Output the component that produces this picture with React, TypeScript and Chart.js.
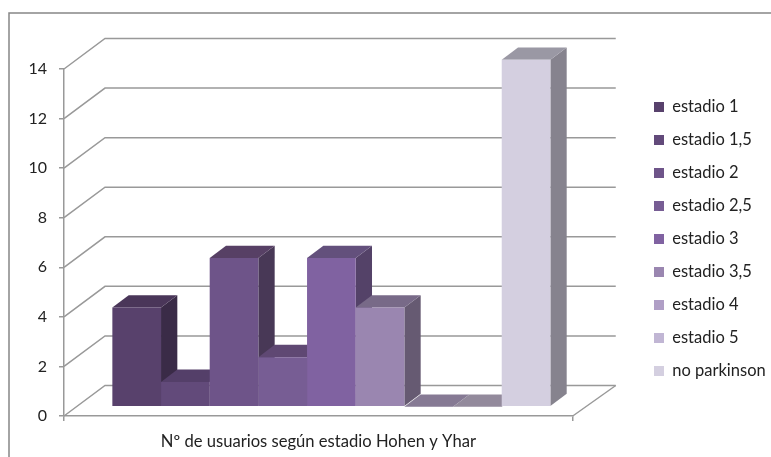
import React, { useEffect, useRef } from "react";
import { Chart, registerables } from "chart.js";

Chart.register(...registerables);

const categories = ["Nº de usuarios según estadio Hohen y Yhar"];
const seriesNames = ["estadio 1", "estadio 1,5", "estadio 2", "estadio 2,5", "estadio 3", "estadio 3,5", "estadio 4", "estadio 5", "no parkinson"];
const seriesValues = [4, 1, 6, 2, 6, 4, 0, 0, 14];
const frontColors = ["#58416c", "#624a7a", "#6e5489", "#775d94", "#8062a1", "#9a86b0", "#b09fc6", "#c1b6d4", "#d4cfe0"];
const topColors = ["#4a3659", "#543f69", "#574065", "#5f4873", "#63507c", "#786a88", "#867a94", "#938a9c", "#9a98a4"];
const sideColors = ["#3a2b47", "#433252", "#483856", "#4c3a5c", "#544268", "#665a72", "#6e6478", "#7a7484", "#86838e"];
const yTicks = [0, 2, 4, 6, 8, 10, 12, 14];

const FONT = "Lato, Carlito, Calibri, sans-serif";
const LINE = "#999999";

const depthPlugin = {
  id: "depth",
  beforeDraw(chart: any) {
    const { ctx } = chart;
    ctx.save();
    ctx.strokeStyle = "#868686";
    ctx.lineWidth = 1.5;
    ctx.beginPath();
    ctx.moveTo(9, chart.height);
    ctx.lineTo(9, 13);
    ctx.lineTo(chart.width, 13);
    ctx.stroke();
    ctx.restore();
  },
  afterLayout(chart: any) {
    const lg = chart.legend;
    const w = lg.right - lg.left;
    const h = lg.bottom - lg.top;
    lg.left = 637.5;
    lg.right = 637.5 + w;
    lg.top = 239 - h / 2;
    lg.bottom = lg.top + h;
  },
  beforeDatasetDraw() {
    return false;
  },
  beforeDatasetsDraw(chart: any) {
    const { ctx, chartArea, scales } = chart;
    const dx = 41;
    const dy = 30.5;
    ctx.save();
    ctx.strokeStyle = LINE;
    ctx.lineWidth = 1.5;
    yTicks.forEach((t) => {
      const y = scales.y.getPixelForValue(t);
      ctx.beginPath();
      ctx.moveTo(chartArea.left, y);
      ctx.lineTo(chartArea.left + dx, y - dy);
      ctx.lineTo(chartArea.right + dx + 2, y - dy);
      ctx.stroke();
    });
    ctx.beginPath();
    ctx.moveTo(chartArea.right + dx + 2, chartArea.bottom - dy);
    ctx.lineTo(chartArea.right, chartArea.bottom);
    ctx.stroke();
    ctx.restore();
  },
  afterDatasetsDraw(chart: any) {
    const { ctx } = chart;
    const ox = 13;
    const oy = -9.3;
    const sx = 16.3;
    const sy = -12.3;
    ctx.save();
    ctx.translate(ox, oy);
    chart.data.datasets.forEach((_: any, i: number) => {
      const bar = chart.getDatasetMeta(i).data[0];
      const { x, y, base, width } = bar.getProps(["x", "y", "base", "width"], true);
      const l = x - width / 2;
      const r = x + width / 2;
      if (base - y > 0.5) {
        ctx.fillStyle = sideColors[i];
        ctx.beginPath();
        ctx.moveTo(r, y);
        ctx.lineTo(r + sx, y + sy);
        ctx.lineTo(r + sx, base + sy);
        ctx.lineTo(r, base);
        ctx.closePath();
        ctx.fill();
      }
      ctx.fillStyle = topColors[i];
      ctx.beginPath();
      ctx.moveTo(l, y);
      ctx.lineTo(l + sx, y + sy);
      ctx.lineTo(r + sx, y + sy);
      ctx.lineTo(r, y);
      ctx.closePath();
      ctx.fill();
      if (base - y > 0.5) bar.draw(ctx);
    });
    ctx.restore();
  },
};

export default function App() {
  const ref = useRef<HTMLCanvasElement>(null);
  useEffect(() => {
    const chart = new Chart(ref.current!, {
      type: "bar",
      plugins: [depthPlugin as any],
      data: {
        labels: categories,
        datasets: seriesNames.map((name, i) => ({
          label: name,
          data: [seriesValues[i]],
          backgroundColor: frontColors[i],
          borderWidth: 0,
          categoryPercentage: 0.861,
          barPercentage: 1,
        })),
      },
      options: {
        responsive: false,
        animation: false,
        layout: { padding: { left: 20, top: 69, right: 60, bottom: 2 } },
        plugins: {
          title: { display: false },
          tooltip: { enabled: false },
          legend: {
            display: true,
            position: "right",
            labels: {
              boxWidth: 10,
              boxHeight: 10,
              padding: 16.5,
              color: "#222222",
              font: { family: FONT, size: 16.5 },
            },
          },
        },
        scales: {
          x: {
            afterFit: (s: any) => {
              s.height = 39;
            },
            border: { color: LINE, width: 1.5 },
            grid: { drawOnChartArea: false, drawTicks: true, tickLength: 5, color: LINE, lineWidth: 1.5 },
            ticks: { color: "#222222", padding: 11, font: { family: FONT, size: 16.6 }, maxRotation: 0 },
          },
          y: {
            min: 0,
            max: 14,
            afterFit: (s: any) => {
              s.width = 44;
            },
            afterBuildTicks: (s: any) => {
              s.ticks = yTicks.map((value) => ({ value }));
            },
            border: { color: LINE, width: 1.5 },
            grid: { drawOnChartArea: false, drawTicks: true, tickLength: 5, color: LINE, lineWidth: 1.5 },
            ticks: { color: "#222222", padding: 12, font: { family: FONT, size: 16 } },
          },
        },
      },
    });
    return () => chart.destroy();
  }, []);
  return <canvas ref={ref} width={771} height={457} style={{ position: "absolute", left: 0, top: 0, display: "block" }} />;
}
